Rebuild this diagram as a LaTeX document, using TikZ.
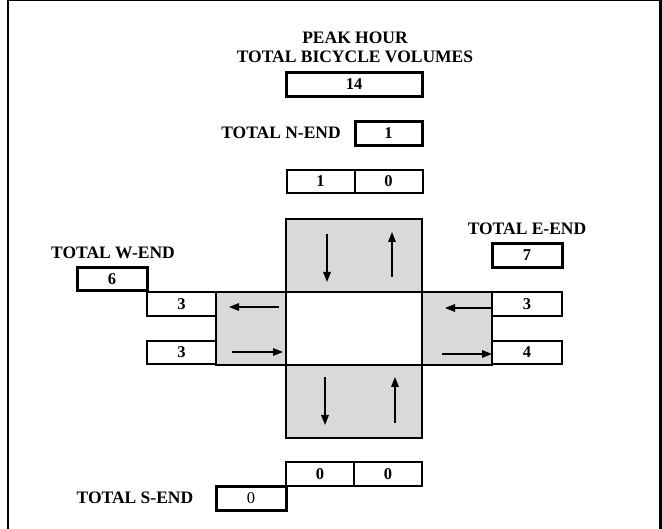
\documentclass[tikz,border=0pt]{standalone}
\usepackage{fontspec}
\setmainfont{Liberation Serif}
\usetikzlibrary{arrows.meta}
\definecolor{laneGray}{RGB}{217,217,217}
\begin{document}
\begin{tikzpicture}[x=1pt,y=-1pt,
  >={Triangle[length=10pt,width=7.5pt]},
  cell/.style={draw, line width=2pt, minimum width=68pt, minimum height=23.5pt, inner sep=0pt, font=\fontsize{16.5}{18}\selectfont\bfseries},
  totalcell/.style={cell, line width=3pt},
  approach/.style={draw, fill=laneGray, line width=2pt, inner sep=0pt},
  heading/.style={font=\fontsize{17.5}{19}\selectfont\bfseries, inner sep=0pt, align=center},
  flow/.style={->, line width=1.5pt}]
\useasboundingbox (0,0) rectangle (662,529);
% frame
\draw[line width=2.7pt] (8,0) -- (8,529);
\draw[line width=3pt] (660.5,0) -- (660.5,529);
\draw[line width=1pt] (8,0.5) -- (660,0.5);
% intersection
\node[approach, minimum width=136pt, minimum height=73pt] (north) at (354,255.5) {};
\node[approach, minimum width=136pt, minimum height=73pt] (south) at (354,401.5) {};
\node[approach, minimum width=70pt, minimum height=73pt] (west) at (251,328.5) {};
\node[approach, minimum width=70pt, minimum height=73pt] (east) at (457,328.5) {};
\node[approach, fill=white, minimum width=136pt, minimum height=73pt] (middle) at (354,328.5) {};
\draw[flow] (327,234) -- (327,282);
\draw[flow] (392,277) -- (392,232);
\draw[flow] (325,377) -- (325,425);
\draw[flow] (395,423) -- (395,377);
\draw[flow] (279,307) -- (229,307);
\draw[flow] (232,352) -- (283,352);
\draw[flow] (491,308) -- (445,308);
\draw[flow] (442,354) -- (492,354);
% totals
\node[heading] (title) at (355,47.5) {PEAK HOUR\\TOTAL BICYCLE VOLUMES};
\node[totalcell, minimum width=136pt] (total) at (354,84.5) {14};
\node[heading] (nlabel) at (281,133) {TOTAL N-END};
\node[totalcell, minimum width=67pt] (ntotal) at (388.5,133.5) {1};
\node[cell] (nin) at (320.5,181.5) {1};
\node[cell] (nout) at (388.5,181.5) {0};
\node[heading] (wlabel) at (113,253) {TOTAL W-END};
\node[totalcell, minimum width=70pt] (wtotal) at (112,279) {6};
\node[cell, minimum width=69pt] (wout) at (181.5,304) {3};
\node[cell, minimum width=69pt] (win) at (181.5,352.5) {3};
\node[heading] (elabel) at (527,229) {TOTAL E-END};
\node[totalcell, minimum width=70pt] (etotal) at (527,255.5) {7};
\node[cell, minimum width=70pt] (ein) at (527,304) {3};
\node[cell, minimum width=70pt] (eout) at (527,352.5) {4};
\node[cell] (sout) at (320,474) {0};
\node[cell] (sin) at (388,474) {0};
\node[heading] (slabel) at (135,498) {TOTAL S-END};
\node[totalcell, minimum width=70pt, font=\fontsize{16.5}{18}\selectfont] (stotal) at (251,498.5) {0};
\end{tikzpicture}
\end{document}
